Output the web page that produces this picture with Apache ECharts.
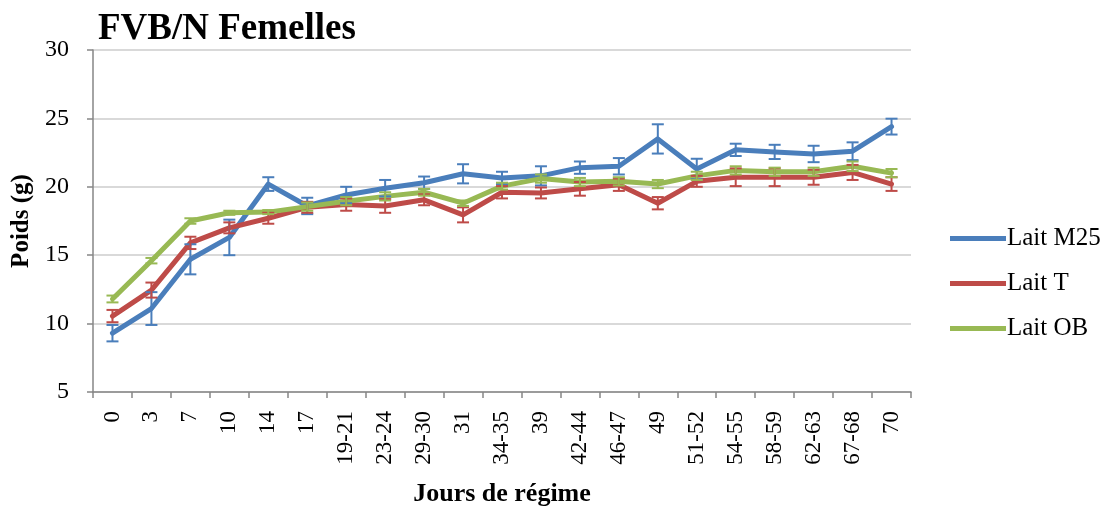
<!DOCTYPE html>
<html>
<head>
<meta charset="utf-8">
<script src="https://cdn.jsdelivr.net/npm/echarts@6/dist/echarts.min.js"></script>
<style>
  html, body { margin: 0; padding: 0; background: #fff; }
  #chart { width: 1113px; height: 512px; }
</style>
</head>
<body>
<div id="chart"></div>
<script>
// Day groups on the diet
const days = ['0', '3', '7', '10', '14', '17', '19-21', '23-24', '29-30', '31', '34-35',
  '39', '42-44', '46-47', '49', '51-52', '54-55', '58-59', '62-63', '67-68', '70'];

// Mean body weight (g) per group
const laitM25 = [9.3, 11.1, 14.7, 16.3, 20.2, 18.6, 19.4, 19.9, 20.3, 20.95, 20.65,
  20.8, 21.4, 21.5, 23.5, 21.3, 22.7, 22.55, 22.4, 22.6, 24.4];
const laitT = [10.55, 12.45, 15.9, 17.0, 17.7, 18.5, 18.7, 18.6, 19.05, 17.95, 19.6,
  19.55, 19.85, 20.15, 18.8, 20.4, 20.7, 20.7, 20.7, 21.05, 20.2];
const laitOB = [11.8, 14.6, 17.5, 18.1, 18.15, 18.55, 18.95, 19.3, 19.6, 18.8, 20.05,
  20.6, 20.35, 20.4, 20.2, 20.8, 21.2, 21.1, 21.1, 21.5, 21.0];

// Error (g) drawn above and below each mean
const errM25 = [0.6, 1.2, 1.1, 1.3, 0.5, 0.6, 0.6, 0.6, 0.45, 0.7, 0.45,
  0.7, 0.45, 0.6, 1.07, 0.75, 0.45, 0.52, 0.6, 0.65, 0.58];
const errT = [0.45, 0.55, 0.45, 0.4, 0.4, 0.4, 0.45, 0.5, 0.4, 0.55, 0.45,
  0.4, 0.5, 0.45, 0.45, 0.4, 0.65, 0.65, 0.55, 0.55, 0.5];
const errOB = [0.25, 0.2, 0.2, 0.15, 0.15, 0.3, 0.3, 0.3, 0.25, 0.2, 0.25,
  0.3, 0.3, 0.3, 0.3, 0.3, 0.3, 0.3, 0.3, 0.35, 0.3];

const yTicks = { min: 5, max: 30, interval: 5 };

const BLUE = '#4a7ebb', RED = '#be4b48', GREEN = '#98b954';
const SERIF = '"Liberation Serif", "DejaVu Serif", serif';

function errorData(means, errs) {
  return means.map((m, i) => [i, m - errs[i], m + errs[i]]);
}

function errorBars(name, means, errs, color) {
  return {
    name: name,
    type: 'custom',
    data: errorData(means, errs),
    z: 3,
    renderItem: function (params, api) {
      const i = api.value(0);
      const hi = api.coord([i, api.value(2)]);
      const lo = api.coord([i, api.value(1)]);
      const half = 6;
      const st = { stroke: color, lineWidth: 2 };
      return {
        type: 'group',
        children: [
          { type: 'line', shape: { x1: hi[0], y1: hi[1], x2: lo[0], y2: lo[1] }, style: st },
          { type: 'line', shape: { x1: hi[0] - half, y1: hi[1], x2: hi[0] + half, y2: hi[1] }, style: st },
          { type: 'line', shape: { x1: lo[0] - half, y1: lo[1], x2: lo[0] + half, y2: lo[1] }, style: st }
        ]
      };
    }
  };
}

function lineSeries(name, values, color) {
  return {
    name: name,
    type: 'line',
    data: values,
    showSymbol: false,
    symbol: 'none',
    z: 2,
    lineStyle: { color: color, width: 5, join: 'round', cap: 'round' },
    itemStyle: { color: color }
  };
}

const chart = echarts.init(document.getElementById('chart'), null, { renderer: 'canvas' });
chart.setOption({
  animation: false,
  backgroundColor: '#ffffff',
  title: {
    text: 'FVB/N Femelles',
    left: 93,
    top: 6,
    textStyle: { fontFamily: SERIF, fontSize: 37, fontWeight: 'bold', color: '#000' }
  },
  legend: {
    orient: 'vertical',
    left: 945,
    top: 221,
    itemGap: 20,
    itemWidth: 56,
    itemHeight: 5,
    icon: 'rect',
    data: ['Lait M25', 'Lait T', 'Lait OB'],
    textStyle: { fontFamily: SERIF, fontSize: 25, color: '#000', padding: [0, 0, 0, -4] }
  },
  grid: { left: 93, right: 202, top: 50, bottom: 119 },
  xAxis: {
    type: 'category',
    data: days,
    boundaryGap: true,
    name: 'Jours de régime',
    nameLocation: 'middle',
    nameGap: 89,
    nameTextStyle: { fontFamily: SERIF, fontSize: 26, fontWeight: 'bold', color: '#000' },
    axisLine: { lineStyle: { color: '#868686', width: 1.5 } },
    axisTick: { show: true, length: 6, lineStyle: { color: '#868686', width: 1.5 } },
    axisLabel: { rotate: 90, margin: 19, fontFamily: SERIF, fontSize: 23, color: '#000' },
    splitLine: { show: false }
  },
  yAxis: {
    type: 'value',
    min: yTicks.min,
    max: yTicks.max,
    interval: yTicks.interval,
    name: 'Poids (g)',
    nameLocation: 'middle',
    nameGap: 58,
    nameTextStyle: { fontFamily: SERIF, fontSize: 25, fontWeight: 'bold', color: '#000' },
    axisLine: { show: true, lineStyle: { color: '#868686', width: 1.5 } },
    axisTick: { show: true, length: 6, lineStyle: { color: '#868686', width: 1.5 } },
    axisLabel: { margin: 24, fontFamily: SERIF, fontSize: 24, color: '#000' },
    splitLine: { show: true, lineStyle: { color: '#d9d9d9', width: 2 } }
  },
  series: [
    lineSeries('Lait M25', laitM25, BLUE),
    lineSeries('Lait T', laitT, RED),
    lineSeries('Lait OB', laitOB, GREEN),
    errorBars('err M25', laitM25, errM25, BLUE),
    errorBars('err T', laitT, errT, RED),
    errorBars('err OB', laitOB, errOB, GREEN)
  ]
});
</script>
</body>
</html>
